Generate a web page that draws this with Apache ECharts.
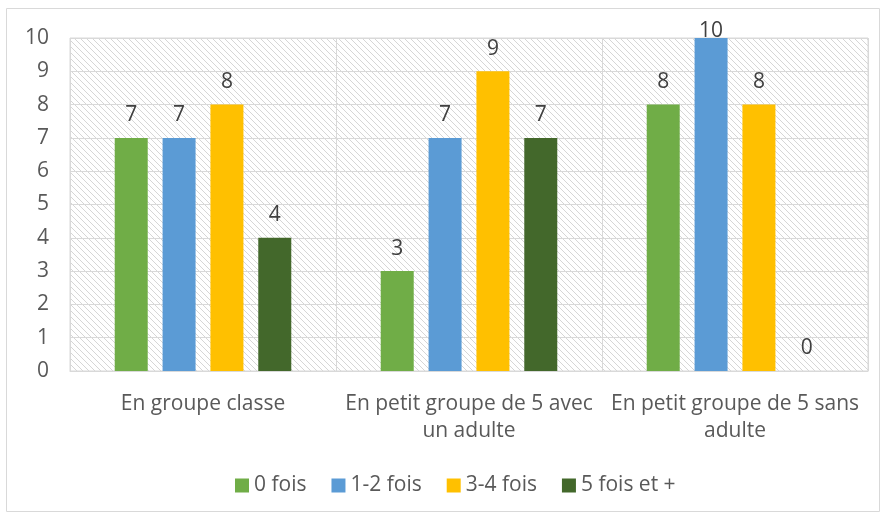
<!DOCTYPE html>
<html>
<head>
<meta charset="utf-8">
<script src="https://cdn.jsdelivr.net/npm/echarts@6/dist/echarts.min.js"></script>
<style>html,body{margin:0;padding:0;background:#fff;}#c{width:886px;height:515px;}</style>
</head>
<body>
<div id="c"></div>
<script>
var categories = ["En groupe classe", "En petit groupe de 5 avec\nun adulte", "En petit groupe de 5 sans\nadulte"];
var seriesNames = ["0 fois", "1-2 fois", "3-4 fois", "5 fois et +"];
var s0 = [7, 3, 8];
var s1 = [7, 7, 10];
var s2 = [8, 9, 8];
var s3 = [4, 7, 0];
var yTicks = [0, 10, 1];

var colors = ["#70AD47", "#5B9BD5", "#FFC000", "#43682B"];
var FONT = "Open Sans";
var FS = 21;

var tile = document.createElement('canvas');
tile.width = 6; tile.height = 6;
var tctx = tile.getContext('2d');
tctx.fillStyle = '#ffffff';
tctx.fillRect(0, 0, 6, 6);
tctx.strokeStyle = '#d6d6d6';
tctx.lineWidth = 1;
tctx.beginPath();
tctx.moveTo(-1, -1); tctx.lineTo(7, 7);
tctx.moveTo(-7, -1); tctx.lineTo(1, 7);
tctx.moveTo(5, -1); tctx.lineTo(13, 7);
tctx.stroke();

var chart = echarts.init(document.getElementById('c'), null, {renderer: 'canvas'});
var data = [s0, s1, s2, s3];
var series = data.map(function (d, i) {
  return {
    name: seriesNames[i],
    type: 'bar',
    data: d.map(function (v) {
      // labels at the top of the axis are pulled down close to the bar (as in the source)
      return v >= yTicks[1] ? {value: v, label: {distance: -4}} : v;
    }),
    barWidth: 33,
    barGap: '45%',
    itemStyle: {color: colors[i]},
    label: {show: true, position: 'top', distance: 12, color: '#404040', fontSize: FS, fontFamily: FONT},
    emphasis: {disabled: true}
  };
});
chart.setOption({
  animation: false,
  textStyle: {fontFamily: FONT},
  graphic: [{
    type: 'rect', shape: {x: 6.5, y: 8.5, width: 873, height: 503},
    style: {fill: 'none', stroke: '#d9d9d9', lineWidth: 1}, z: -10
  }],
  grid: {
    left: 70, right: 18, top: 38, bottom: 144,
    show: true, backgroundColor: {image: tile, repeat: 'repeat'},
    borderColor: '#d9d9d9', borderWidth: 1
  },
  legend: {
    top: 470, left: 230,
    itemWidth: 14, itemHeight: 14, itemGap: 25,
    icon: 'rect',
    textStyle: {fontSize: FS, color: '#595959', fontFamily: FONT},
    data: seriesNames
  },
  xAxis: {
    type: 'category', data: categories,
    axisLine: {lineStyle: {color: '#d9d9d9'}},
    axisTick: {show: false},
    splitLine: {show: true, lineStyle: {color: '#d9d9d9', width: 1}},
    axisLabel: {fontSize: FS, color: '#595959', margin: 20, lineHeight: 27, fontFamily: FONT, interval: 0}
  },
  yAxis: {
    type: 'value', min: yTicks[0], max: yTicks[1], interval: yTicks[2],
    axisLine: {show: false}, axisTick: {show: false},
    splitLine: {lineStyle: {color: '#d9d9d9', width: 1}},
    axisLabel: {fontSize: FS, color: '#595959', margin: 21, fontFamily: FONT}
  },
  series: series
});
</script>
</body>
</html>
